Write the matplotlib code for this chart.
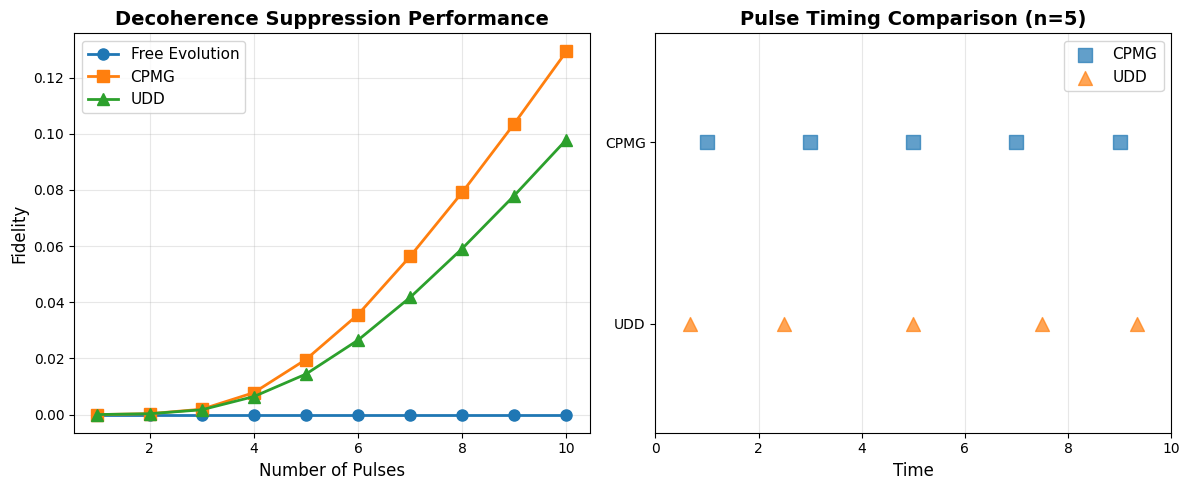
import numpy as np
import matplotlib
matplotlib.use("Agg")
import matplotlib.pyplot as plt

# Left panel data
n_pulses = [1, 2, 3, 4, 5, 6, 7, 8, 9, 10]
free_fid = [0, 0, 0, 0, 0, 0, 0, 0, 0, 0]
cpmg_fid = [0.0, 0.0003, 0.0019, 0.0078, 0.0196, 0.0356, 0.0563, 0.0791, 0.1036, 0.1293]
udd_fid = [0.0, 0.0003, 0.0017, 0.0064, 0.0144, 0.0265, 0.0417, 0.0591, 0.0780, 0.0979]

# Right panel data (pulse times, n=5, T=10)
cpmg_times = [1.0, 3.0, 5.0, 7.0, 9.0]
udd_times = [0.67, 2.5, 5.0, 7.5, 9.33]
row_labels = ["UDD", "CPMG"]

fig, (ax1, ax2) = plt.subplots(1, 2, figsize=(12, 5), dpi=100)

# Fidelity vs number of pulses
ax1.plot(n_pulses, free_fid, "o-", label="Free Evolution", linewidth=2, markersize=8)
ax1.plot(n_pulses, cpmg_fid, "s-", label="CPMG", linewidth=2, markersize=8)
ax1.plot(n_pulses, udd_fid, "^-", label="UDD", linewidth=2, markersize=8)
ax1.set_xlabel("Number of Pulses", fontsize=12)
ax1.set_ylabel("Fidelity", fontsize=12)
ax1.set_title("Decoherence Suppression Performance", fontsize=14, fontweight="bold")
ax1.legend(fontsize=11)
ax1.grid(True, alpha=0.3)

# Pulse timing
ax2.scatter(cpmg_times, [1] * len(cpmg_times), marker="s", s=100, alpha=0.7, label="CPMG")
ax2.scatter(udd_times, [0] * len(udd_times), marker="^", s=100, alpha=0.7, label="UDD")
ax2.set_yticks([0, 1])
ax2.set_yticklabels(row_labels)
ax2.set_ylim(-0.6, 1.6)
ax2.set_xlim(0, 10)
ax2.set_xlabel("Time", fontsize=12)
ax2.set_title("Pulse Timing Comparison (n=5)", fontsize=14, fontweight="bold")
ax2.legend(fontsize=11)
ax2.grid(True, alpha=0.3, axis="x")

plt.tight_layout()
plt.savefig("out.png", dpi=100, bbox_inches="tight")
